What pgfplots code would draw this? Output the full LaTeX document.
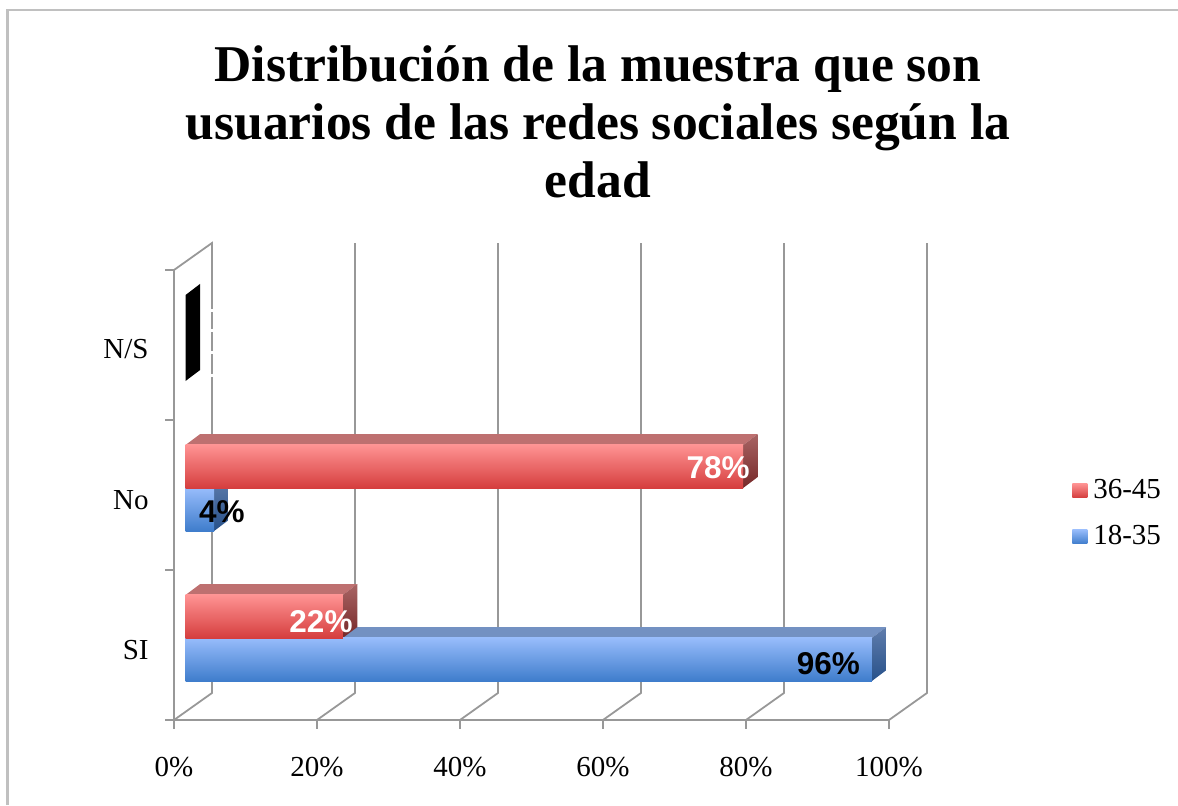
\documentclass[border=0pt]{standalone}
\usepackage{fontspec}
\setmainfont{Liberation Serif}
\newfontfamily\lab{Liberation Sans}
\usepackage{pgfplots}
\pgfplotsset{compat=1.18}
\definecolor{axg}{HTML}{989898}
\definecolor{frameg}{HTML}{C0C0C0}
\definecolor{redT}{HTML}{FF9393}
\definecolor{redB}{HTML}{D53E3E}
\definecolor{redTop}{HTML}{BE7070}
\definecolor{redST}{HTML}{A86464}
\definecolor{redSB}{HTML}{762828}
\definecolor{bluT}{HTML}{97BCFB}
\definecolor{bluB}{HTML}{3F7DCC}
\definecolor{bluTop}{HTML}{7391C2}
\definecolor{bluST}{HTML}{607DAC}
\definecolor{bluSB}{HTML}{27518A}
\newcommand{\tickfont}{\fontsize{14.5}{16}\selectfont}
\begin{document}
\begin{tikzpicture}
\draw[frameg,line width=1.25pt] (-83.25pt,-42.5pt) -- (-83.25pt,355pt) -- (502pt,355pt);
\begin{axis}[
  at={(0,0)},anchor=south west,
  scale only axis,width=357.5pt,height=225pt,
  xmin=-1.61,xmax=98.39,ymin=0,ymax=3,
  clip=false,
  axis x line*=bottom,axis y line*=left,
  axis line style={axg,line width=0.9pt,-},
  xtick={-1.61,18.39,38.39,58.39,78.39,98.39},
  xticklabels={0\%,20\%,40\%,60\%,80\%,100\%},
  ytick={0.467,1.467,2.473},
  yticklabels={SI,No,N/S},
  ytick style={draw=none},
  xtick style={draw=none},
  major tick length=0pt,
  tick label style={font=\tickfont},
  xticklabel style={yshift=-15pt},
  yticklabel style={inner xsep=0pt,xshift=-12.5pt},
  legend style={at={(1.2558,0.5356)},anchor=north west,draw=none,fill=none,
     font=\tickfont,row sep=12pt,inner sep=0pt,
     nodes={inner xsep=3pt,inner ysep=0pt}},
  legend cell align=left,
]
% legend
\addlegendimage{legend image code/.code={\path[top color=redT,bottom color=redB,draw=none] (0pt,-3.5pt) rectangle (7.5pt,3.5pt);}}
\addlegendentry{36-45}
\addlegendimage{legend image code/.code={\path[top color=bluT,bottom color=bluB,draw=none] (0pt,-3.5pt) rectangle (7.5pt,3.5pt);}}
\addlegendentry{18-35}
% wall lines and gridlines
\pgfplotsset{wall/.style={axg,line width=0.9pt,no marks,forget plot},
  face/.style={draw=none,no marks,forget plot},
  front/.style={xbar,bar width=0.287,bar shift=0pt,draw=none,forget plot}}
\addplot[wall] coordinates {(-1.61,0) (3.7,0.18) (3.7,3.18) (-1.61,3)};
\addplot[wall] coordinates {(18.39,0) (23.7,0.18) (23.7,3.18)};
\addplot[wall] coordinates {(38.39,0) (43.7,0.18) (43.7,3.18)};
\addplot[wall] coordinates {(58.39,0) (63.7,0.18) (63.7,3.18)};
\addplot[wall] coordinates {(78.39,0) (83.7,0.18) (83.7,3.18)};
\addplot[wall] coordinates {(98.39,0) (103.7,0.18) (103.7,3.18)};
% y ticks
\addplot[wall,line width=0.6pt] coordinates {(-1.61,0) (-2.87,0)};
\addplot[wall,line width=0.6pt] coordinates {(-1.61,1) (-2.87,1)};
\addplot[wall,line width=0.6pt] coordinates {(-1.61,2) (-2.87,2)};
\addplot[wall,line width=0.6pt] coordinates {(-1.61,3) (-2.87,3)};
% x ticks
\addplot[wall,line width=0.6pt] coordinates {(-1.61,0) (-1.61,-0.06)};
\addplot[wall,line width=0.6pt] coordinates {(18.39,0) (18.39,-0.06)};
\addplot[wall,line width=0.6pt] coordinates {(38.39,0) (38.39,-0.06)};
\addplot[wall,line width=0.6pt] coordinates {(58.39,0) (58.39,-0.06)};
\addplot[wall,line width=0.6pt] coordinates {(78.39,0) (78.39,-0.06)};
\addplot[wall,line width=0.6pt] coordinates {(98.39,0) (98.39,-0.06)};
% gaps in the gridline left by the 0% labels
\addplot[wall,white,line width=1.2pt] coordinates {(3.7,2.74) (3.7,2.72)};
\addplot[wall,white,line width=1.2pt] coordinates {(3.7,2.61) (3.7,2.59)};
\addplot[wall,white,line width=1.2pt] coordinates {(3.7,2.46) (3.7,2.44)};
\addplot[wall,white,line width=1.2pt] coordinates {(3.7,2.31) (3.7,2.29)};
% N/S : zero values, only the dark sides show
\addplot[face,fill=black] coordinates {(0,2.26) (2.03,2.333) (2.03,2.907) (0,2.833)} --cycle;
% No, 18-35 side
\addplot[face,top color=bluST,bottom color=bluSB] coordinates {(4,1.26) (6.03,1.333) (6.03,1.62) (4,1.547)} --cycle;
% No, 36-45 top and side
\addplot[face,fill=redTop] coordinates {(0,1.833) (2.03,1.906) (80.03,1.906) (78,1.833)} --cycle;
\addplot[face,top color=redST,bottom color=redSB] coordinates {(78,1.547) (80.03,1.62) (80.03,1.906) (78,1.833)} --cycle;
% SI, 18-35 top and side
\addplot[face,fill=bluTop] coordinates {(0,0.547) (2.03,0.62) (98.03,0.62) (96,0.547)} --cycle;
\addplot[face,top color=bluST,bottom color=bluSB] coordinates {(96,0.26) (98.03,0.333) (98.03,0.62) (96,0.547)} --cycle;
% SI, 36-45 top and side
\addplot[face,fill=redTop] coordinates {(0,0.833) (2.03,0.906) (24.03,0.906) (22,0.833)} --cycle;
\addplot[face,top color=redST,bottom color=redSB] coordinates {(22,0.547) (24.03,0.62) (24.03,0.906) (22,0.833)} --cycle;
% front faces
\addplot[front,top color=bluT,bottom color=bluB] coordinates {(96,0.4035)};
\addplot[front,top color=bluT,bottom color=bluB] coordinates {(4,1.4035)};
\addplot[front,top color=redT,bottom color=redB] coordinates {(22,0.69)};
\addplot[front,top color=redT,bottom color=redB] coordinates {(78,1.69)};
% value labels
\node[text=white,font=\lab\bfseries\fontsize{15.75}{16}\selectfont] at (axis cs:74.5,1.68) {78\%};
\node[text=black,font=\lab\bfseries\fontsize{15.75}{16}\selectfont] at (axis cs:5.1,1.387) {4\%};
\node[text=white,font=\lab\bfseries\fontsize{15.75}{16}\selectfont] at (axis cs:18.95,0.653) {22\%};
\node[text=black,font=\lab\bfseries\fontsize{15.75}{16}\selectfont] at (axis cs:89.9,0.373) {96\%};
\end{axis}
\node[align=center,font=\bfseries\fontsize{25.8}{29}\selectfont] at (212pt,299pt) {Distribución de la muestra que son\\usuarios de las redes sociales según la\\edad};
\pgfresetboundingbox
\useasboundingbox (-87pt,-42.5pt) rectangle (502pt,360pt);
\end{tikzpicture}
\end{document}
